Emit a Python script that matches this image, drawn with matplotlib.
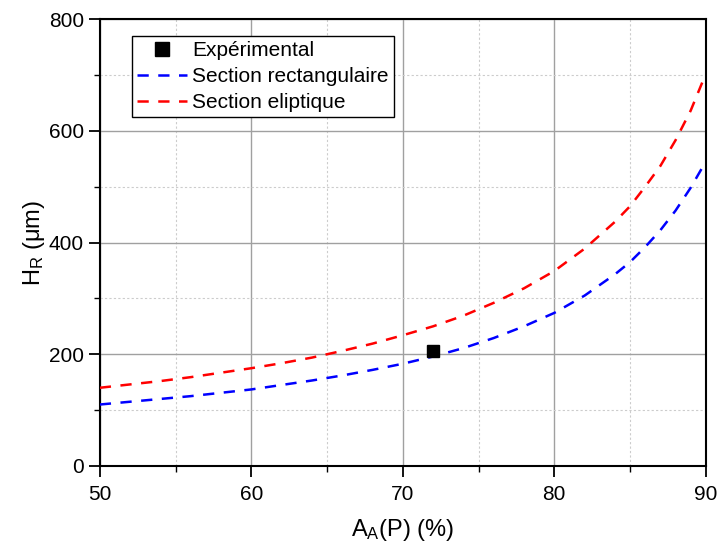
"""
H_R vs A_A(P): experimental point and two section models.
"""

import matplotlib
matplotlib.use("Agg")
import matplotlib.pyplot as plt
from matplotlib.ticker import MultipleLocator

plt.rcParams["font.family"] = ["Liberation Sans", "DejaVu Sans"]
plt.rcParams["mathtext.default"] = "regular"

# values
aa = [50, 52, 54, 56, 58, 60, 62, 64, 66, 68, 70, 72, 74, 76, 78, 80,
      82, 84, 85, 86, 87, 88, 89, 90]
h_rect = [110, 115, 120, 125, 131, 137, 145, 153, 162, 172, 183, 196,
          211, 229, 250, 274, 305, 343, 365, 392, 422, 457, 498, 545]
h_elip = [140, 146, 152, 159, 167, 175, 184, 194, 206, 219, 234, 250,
          269, 292, 318, 349, 389, 437, 465, 500, 537, 583, 636, 702]

exp_aa = [72]
exp_h = [205]

fig = plt.figure(figsize=(7.18, 5.45), dpi=100)
ax = fig.add_axes([0.139, 0.145, 0.844, 0.820])

# grid
ax.grid(True, which="major", color="#a0a0a0", linewidth=1.0)
ax.grid(True, which="minor", color="#cccccc", linewidth=0.8, linestyle=(0, (2, 2)))
ax.set_axisbelow(True)

ax.plot(exp_aa, exp_h, "s", color="black", markersize=9, label="Expérimental", zorder=4)
ax.plot(aa, h_rect, color="#0000ff", linewidth=1.8, linestyle=(0, (4.5, 3.8)),
        label="Section rectangulaire", zorder=3)
ax.plot(aa, h_elip, color="#ff0000", linewidth=1.8, linestyle=(0, (4.5, 3.8)),
        label="Section eliptique", zorder=3)

ax.set_xlim(50, 90)
ax.set_ylim(0, 800)
ax.xaxis.set_major_locator(MultipleLocator(10))
ax.xaxis.set_minor_locator(MultipleLocator(5))
ax.yaxis.set_major_locator(MultipleLocator(200))
ax.yaxis.set_minor_locator(MultipleLocator(100))

ax.tick_params(which="major", direction="out", length=8, width=1.3, labelsize=15)
ax.tick_params(axis="x", which="major", pad=6)
ax.tick_params(which="minor", direction="out", length=4, width=1.0)
for sp in ax.spines.values():
    sp.set_linewidth(1.5)
    sp.set_color("black")

ax.set_xlabel("$A_A$(P) (%)", fontsize=17, labelpad=9)
ax.set_ylabel("$H_R$ (μm)", fontsize=17, labelpad=1)

leg = ax.legend(loc="upper left", bbox_to_anchor=(0.053, 0.962), fontsize=15,
                frameon=True, fancybox=False, framealpha=1, edgecolor="black",
                borderpad=0.25, labelspacing=0.33, handlelength=2.4,
                handletextpad=0.25, borderaxespad=0, markerscale=1.1)
leg.get_frame().set_linewidth(1.0)

fig.savefig("out.png", dpi=100)
